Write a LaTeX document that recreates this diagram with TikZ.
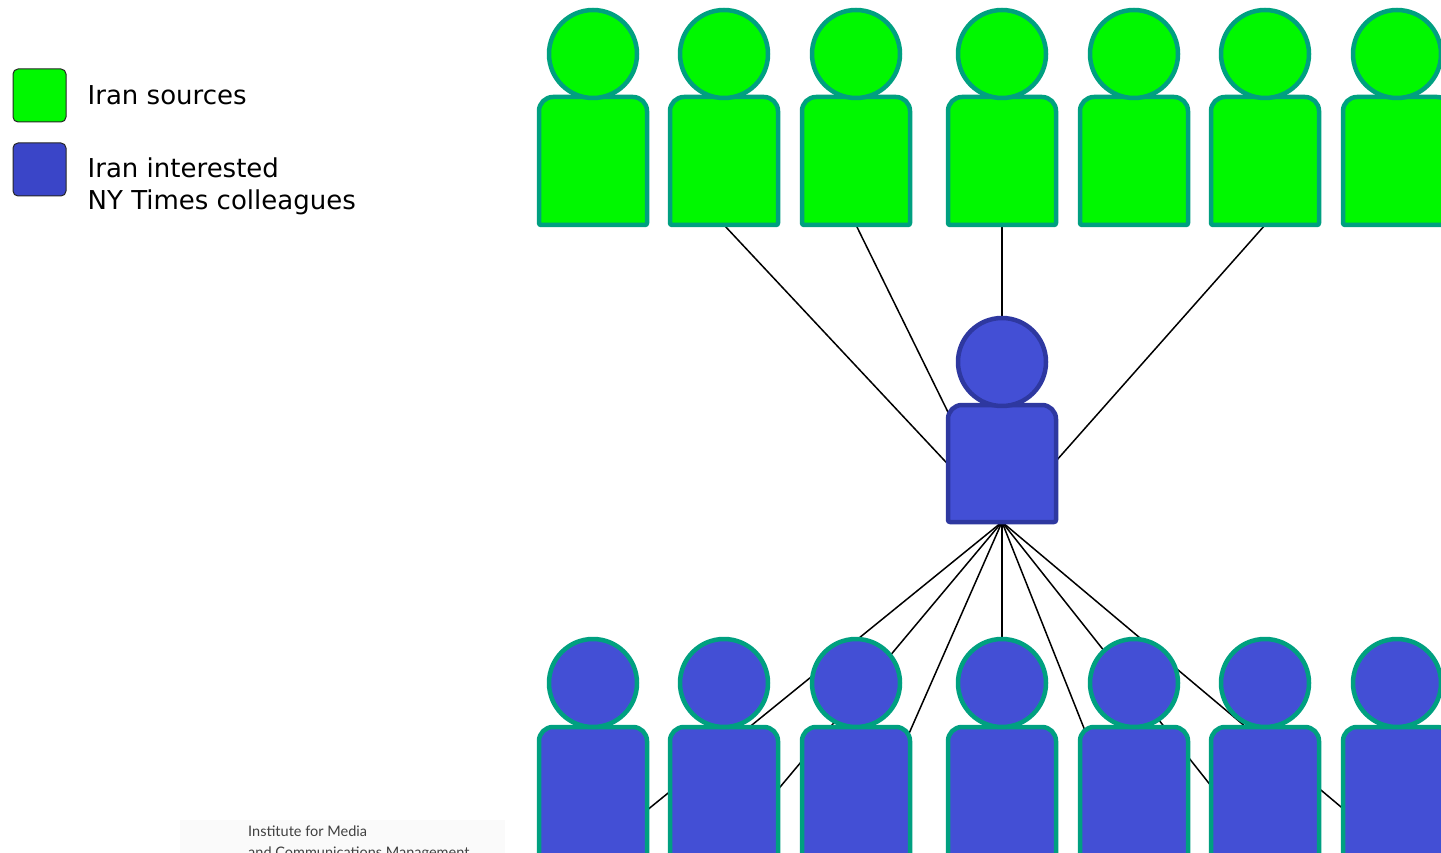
\documentclass[tikz,border=0pt]{standalone}
\usepackage{fontspec}
\setmainfont{DejaVu Sans}
\newfontfamily\footfont{Lato}
\usetikzlibrary{calc}
\definecolor{srcgreen}{RGB}{0,248,0}
\definecolor{edgeteal}{RGB}{0,160,128}
\definecolor{ntblue}{RGB}{67,79,213}
\definecolor{hubedge}{RGB}{46,56,160}
\definecolor{keyblue}{RGB}{58,69,200}
\definecolor{footgray}{RGB}{250,250,250}
\tikzset{
    person/.style={line width=4.5pt, line join=round, draw=edgeteal},
    link/.style={line width=1.5pt},
    keybox/.style={minimum size=53pt, inner sep=0pt, rounded corners=5pt, draw=black!85, line width=1pt},
    keytext/.style={anchor=base west, inner sep=0pt, font=\fontsize{26}{32}\selectfont, align=left}
}

\begin{document}
\begin{tikzpicture}[x=1pt,y=-1pt]
\useasboundingbox (0,0) rectangle (1441,853);
\fill[footgray] (180,820) rectangle (505,853);
\coordinate (hub) at (1002,522);
\foreach \x/\i in {593/1,724/2,856/3,1002/4,1134/5,1265/6,1397/7}{
    \coordinate (s\i) at (\x,225);
    \coordinate (c\i) at (\x,854);
}
\foreach \i in {2,3,4,6}
    \draw[link] (s\i)--(hub);
\foreach \i in {1,...,7}
    \draw[link] (hub)--(c\i);
\foreach \x in {593,724,856,1002,1134,1265,1397}{
    \draw[person, fill=srcgreen, rounded corners=2pt] (\x-54,225) [rounded corners=14pt] -- (\x-54,97) -- (\x+54,97) [rounded corners=2pt] -- (\x+54,225) -- cycle;
    \draw[person, fill=srcgreen] (\x,54) circle (44pt);
    \draw[person, fill=ntblue, rounded corners=2pt] (\x-54,856) [rounded corners=14pt] -- (\x-54,727) -- (\x+54,727) [rounded corners=2pt] -- (\x+54,856) -- cycle;
    \draw[person, fill=ntblue] (\x,683) circle (44pt);
}
\draw[person, draw=hubedge, fill=ntblue, rounded corners=2pt] (hub) -- (948,522) [rounded corners=14pt] -- (948,405) -- (1056,405) [rounded corners=2pt] -- (1056,522) -- (hub);
\draw[person, draw=hubedge, fill=ntblue] (1002,362) circle (44pt);
\node[keybox, fill=srcgreen] (ksrc) at (39.5,95.5) {};
\node[keybox, fill=keyblue] (kcol) at (39.5,169.5) {};
\node[keytext] (tsrc) at (87.5,105) {Iran sources};
\node[keytext] (tcol) at (87.5,210) {Iran interested\\NY Times colleagues};
\node[anchor=base west, inner sep=0pt, font=\footfont\fontsize{14.5}{21}\selectfont, text=black!75, align=left] (inst) at (248,857) {Institute for Media\\and Communications Management};
\end{tikzpicture}
\end{document}
